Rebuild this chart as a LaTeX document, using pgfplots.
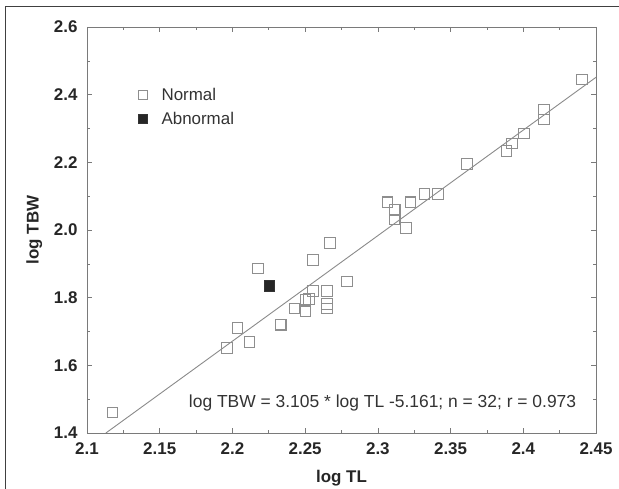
\documentclass[border=0pt]{standalone}
\usepackage{fontspec}
\setmainfont{Liberation Sans}
\usepackage{pgfplots}
\pgfplotsset{compat=1.18}
\definecolor{mk}{HTML}{8E8E8E}
\definecolor{fitl}{HTML}{8A8A8A}
\definecolor{frm}{HTML}{7A7A7A}
\definecolor{txt}{HTML}{333333}

\pgfplotstableread{
x y
2.1176 1.461
2.1963 1.651
2.2035 1.710
2.2118 1.669
2.2177 1.886
2.2332 1.720
2.2427 1.768
2.2503 1.759
2.2503 1.794
2.2527 1.796
2.2554 1.820
2.2554 1.911
2.2652 1.820
2.2652 1.782
2.2652 1.768
2.2671 1.961
2.2788 1.848
2.3067 2.082
2.3116 2.060
2.3116 2.031
2.3192 2.006
2.3225 2.082
2.3320 2.106
2.3415 2.106
2.3613 2.195
2.3884 2.234
2.3922 2.256
2.4006 2.285
2.4142 2.327
2.4142 2.356
2.4402 2.445
}\normal

\begin{document}
\begin{tikzpicture}
\useasboundingbox (0,0) rectangle (619bp,489bp);
\draw[black!75, line width=0.8bp] (5bp,0) -- (5bp,483bp) -- (619bp,483bp);
\begin{axis}[at={(87bp,56bp)}, anchor=south west,
  scale only axis, width=509bp, height=406bp,
  xmin=2.1, xmax=2.45, ymin=1.4, ymax=2.6,
  xtick={2.1,2.15,2.2,2.25,2.3,2.35,2.4,2.45},
  ytick={1.4,1.6,1.8,2.0,2.2,2.4,2.6},
  minor x tick num=1, minor y tick num=1,
  tick align=inside,
  major tick length=5bp, minor tick length=3bp,
  every tick/.style={frm, line width=0.6bp},
  axis line style={frm, line width=0.8bp},
  /pgf/number format/assume math mode=true,
  ticklabel style={font=\fontsize{17}{17}\selectfont\bfseries, text=black!85},
  xticklabel style={yshift=-6bp},
  yticklabel style={xshift=-6bp},
  yticklabel style={/pgf/number format/.cd, fixed, fixed zerofill, precision=1},
  xticklabel style={/pgf/number format/.cd, fixed, precision=2},
  xlabel={log TL}, ylabel={log TBW},
  label style={font=\fontsize{17}{17}\selectfont\bfseries, text=black!85},
  xlabel style={yshift=-9bp},
  ylabel style={yshift=5bp},
  legend style={at={(axis cs:2.1325,2.432)}, anchor=north west, draw=none, fill=none,
    font=\fontsize{17}{20}\selectfont, text=txt, row sep=6bp,
    legend cell align=left},
  legend image code/.code={\draw[#1, mark size=4.6bp] plot coordinates {(0.2cm,0cm)};
    \path[draw=none] (0cm,0cm) -- (0.78cm,0cm);},
]
\addplot[only marks, mark=square, mark size=5.3bp, mark options={draw=mk, line width=1.1bp}]
  table {\normal};
\addlegendentry{Normal}
\addplot[only marks, mark=square*, mark size=5.3bp, mark options={draw=black!80, fill=black!85, line width=0.6bp}]
  coordinates {(2.2253,1.835)};
\addlegendentry{Abnormal}
\addplot[fitl, line width=0.9bp, forget plot] coordinates {(2.1130,1.4) (2.45,2.4513)};
\node[anchor=east, text=txt, font=\fontsize{17.5}{17.5}\selectfont, inner sep=0pt]
  at (axis cs:2.4365,1.489) {log TBW = 3.105 * log TL -5.161; n = 32; r = 0.973};
\end{axis}
\end{tikzpicture}
\end{document}
